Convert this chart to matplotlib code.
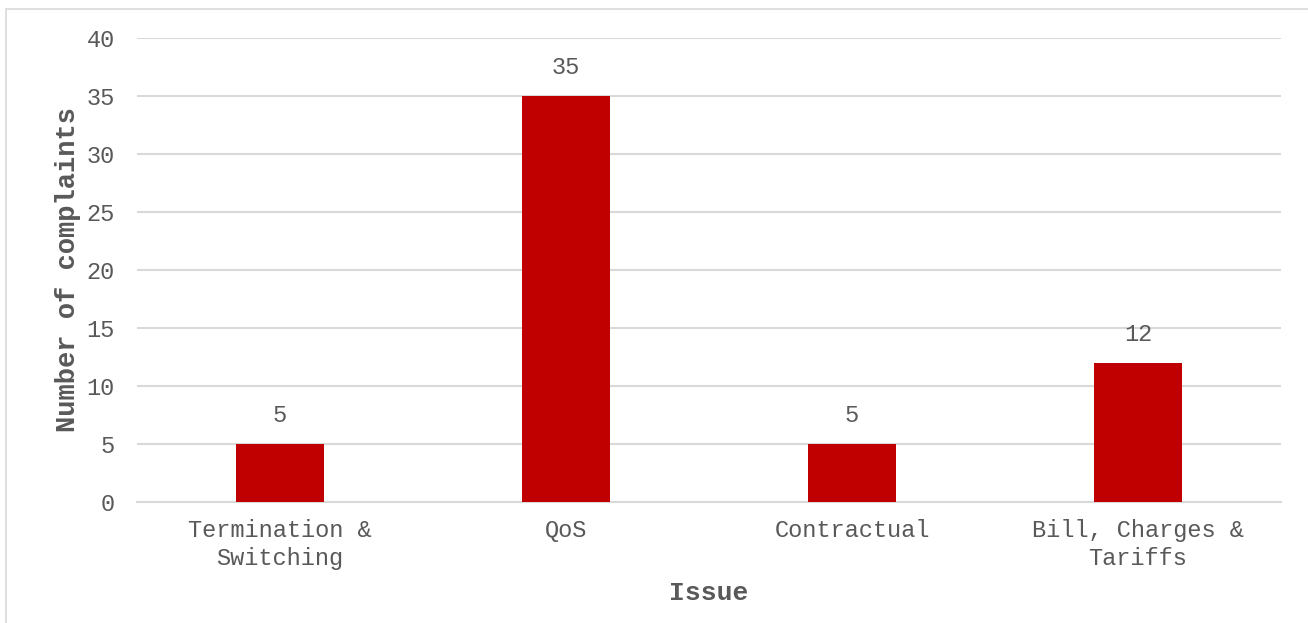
import matplotlib.pyplot as plt
import matplotlib.patches as patches

categories = ['Termination &\nSwitching', 'QoS', 'Contractual', 'Bill, Charges &\nTariffs']
complaints = [5, 35, 5, 12]
y_ticks = [0, 5, 10, 15, 20, 25, 30, 35, 40]

plt.rcParams['font.family'] = ['Liberation Mono', 'DejaVu Sans Mono']

fig = plt.figure(figsize=(13.08, 6.23), dpi=100)
ax = fig.add_axes([137 / 1308, 1 - 502 / 623, 1144 / 1308, 464 / 623])

# outer chart border (runs off the right and bottom edges)
fig.patches.append(patches.Rectangle((6 / 1308, -0.1), 1.2, 1 - 9 / 623 + 0.1,
                                     transform=fig.transFigure, fill=False,
                                     edgecolor='#d9d9d9', linewidth=1.2))

x = range(len(categories))
bars = ax.bar(x, complaints, width=0.31, color='#c00000', zorder=3)

for xi, v in zip(x, complaints):
    ax.annotate(str(v), (xi, v), xytext=(0, 12), textcoords='offset points',
                ha='center', va='bottom', fontsize=17, color='#595959')

ax.set_xlim(-0.5, len(categories) - 0.5)
ax.set_ylim(0, 40)
ax.set_yticks(y_ticks)
ax.set_xticks(list(x))
ax.set_xticklabels(categories, linespacing=1.3)
ax.tick_params(axis='both', length=0, labelsize=17, colors='#595959')
ax.tick_params(axis='y', pad=16)
ax.tick_params(axis='x', pad=12)

ax.grid(axis='y', color='#d9d9d9', linewidth=1.5, zorder=0)
for side in ['top', 'right', 'left']:
    ax.spines[side].set_visible(False)
ax.spines['bottom'].set_color('#d9d9d9')
ax.spines['bottom'].set_linewidth(1.5)

ax.set_xlabel('Issue', fontsize=19, fontweight='bold', color='#595959', labelpad=8)
ax.set_ylabel('Number of complaints', fontsize=19.5, fontweight='bold', color='#595959', labelpad=4)

fig.savefig('out.png', dpi=100)
